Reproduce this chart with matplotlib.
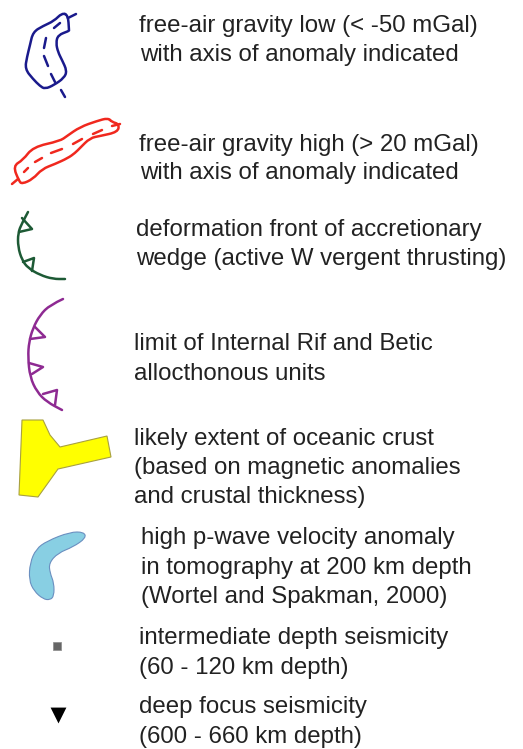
import matplotlib
matplotlib.use("Agg")
import matplotlib.pyplot as plt
from matplotlib.patches import Polygon, PathPatch
from matplotlib.path import Path

plt.rcParams['font.family'] = ['Liberation Sans', 'DejaVu Sans']

# outlines, in image pixels
low_outline = [(62, 13), (68, 15), (69, 30), (69, 31), (58, 35), (56, 43), (58, 52), (62, 60), (67, 71), (64, 78),
               (54, 85), (45, 89), (40, 86), (33, 79), (25, 69), (27, 57), (30, 45), (33, 32), (43, 26), (54, 21)]
low_axis = [[(76, 14), (68, 18)], [(60, 23), (54, 28)], [(46, 38), (44, 48)], [(44, 56), (48, 66)],
            [(51, 74), (55, 82)], [(61, 90), (65, 97)]]
high_outline = [(108, 118), (112, 122), (119, 124), (118, 132), (100, 136), (90, 138), (80, 148), (75, 153),
                (68, 158), (55, 164), (42, 169), (33, 179), (22, 184), (19, 181), (13, 166), (23, 160), (33, 147),
                (60, 141), (67, 136), (80, 127), (97, 121)]
high_axis = [[(120, 124), (112, 126)], [(102, 130), (93, 134)], [(82, 139), (73, 144)], [(62, 149), (51, 153)],
             [(42, 158), (35, 162)], [(28, 168), (24, 172)], [(18, 179), (12, 184)]]
front_curve = [(28, 212), (22, 223), (18, 233), (18, 247), (22, 260), (28, 268), (40, 275), (53, 279), (65, 279)]
front_teeth = [[(22, 218), (32, 229), (19, 232)], [(23, 262), (34, 258), (32, 271)]]
limit_curve = [(63, 299), (50, 305), (40, 315), (33, 328), (29, 342), (28, 357), (30, 377), (37, 392), (47, 402), (62, 410)]
limit_teeth = [[(35, 327), (45, 337), (30, 339)], [(29, 363), (43, 367), (32, 374)], [(43, 394), (57, 390), (55, 405)]]
ocean_outline = [(22, 420), (43, 420), (50, 435), (60, 447), (107, 436), (111, 457), (58, 469), (38, 497), (19, 495)]
velocity_outline = [(47, 541), (70, 532), (84, 532), (86, 538), (73, 547), (58, 553), (49, 563), (50, 573), (54, 583),
                    (54, 596), (50, 600), (43, 599), (34, 591), (29, 580), (30, 563), (36, 549)]
seismic_x = [57]
seismic_y = [646]
deep_x = [57.5]
deep_y = [714.5]

labels = [
    (139, 32, "free-air gravity low (< -50 mGal)"),
    (140, 61, "with axis of anomaly indicated"),
    (139, 151, "free-air gravity high (> 20 mGal)"),
    (140, 179, "with axis of anomaly indicated"),
    (136, 236, "deformation front of accretionary"),
    (136, 265, "wedge (active W vergent thrusting)"),
    (134, 350, "limit of Internal Rif and Betic"),
    (134, 380, "allocthonous units"),
    (134, 445, "likely extent of oceanic crust"),
    (134, 474, "(based on magnetic anomalies"),
    (134, 503, "and crustal thickness)"),
    (141, 544, "high p-wave velocity anomaly"),
    (141, 574, "in tomography at 200 km depth"),
    (141, 603, "(Wortel and Spakman, 2000)"),
    (139, 644, "intermediate depth seismicity"),
    (139, 674, "(60 - 120 km depth)"),
    (139, 713, "deep focus seismicity"),
    (139, 743, "(600 - 660 km depth)"),
]

fig = plt.figure(figsize=(5.23, 7.49), dpi=100)
ax = fig.add_axes([0, 0, 1, 1])
ax.set_xlim(0, 523)
ax.set_ylim(749, 0)
ax.axis('off')


def draw_line(points, color, lw=1.8):
    ax.plot([p[0] for p in points], [p[1] for p in points], color=color, lw=lw,
            solid_capstyle='round', solid_joinstyle='round')


def smooth_path(points, closed=False):
    # quadratic curves through the midpoints, keeps the hand drawn look
    if closed:
        pts = list(points) + [points[0], points[1]]
        verts = [((pts[0][0] + pts[1][0]) / 2, (pts[0][1] + pts[1][1]) / 2)]
        codes = [Path.MOVETO]
        for i in range(1, len(pts) - 1):
            m = ((pts[i][0] + pts[i + 1][0]) / 2, (pts[i][1] + pts[i + 1][1]) / 2)
            verts += [pts[i], m]
            codes += [Path.CURVE3, Path.CURVE3]
        return Path(verts, codes)
    verts = [points[0]]
    codes = [Path.MOVETO]
    for i in range(1, len(points) - 1):
        m = ((points[i][0] + points[i + 1][0]) / 2, (points[i][1] + points[i + 1][1]) / 2)
        verts += [points[i], m]
        codes += [Path.CURVE3, Path.CURVE3]
    verts.append(points[-1])
    codes.append(Path.LINETO)
    return Path(verts, codes)


def draw_smooth(points, color, lw=1.8, closed=False):
    ax.add_patch(PathPatch(smooth_path(points, closed), facecolor='none', edgecolor=color, lw=lw,
                           capstyle='round', joinstyle='round'))


# gravity low and high
draw_smooth(low_outline, '#1a1a8c', closed=True)
for seg in low_axis:
    draw_line(seg, '#1a1a8c')
draw_smooth(high_outline, '#f0281e', closed=True)
for seg in high_axis:
    draw_line(seg, '#f0281e')

# thrust fronts
draw_smooth(front_curve, '#1d5a35')
for tooth in front_teeth:
    draw_line(tooth, '#1d5a35')
draw_smooth(limit_curve, '#8e2a92')
for tooth in limit_teeth:
    draw_line(tooth, '#8e2a92')

# filled areas
ax.add_patch(Polygon(ocean_outline, closed=True, facecolor='#ffff00', edgecolor='#a8a040', lw=0.8))
ax.add_patch(PathPatch(smooth_path(velocity_outline, True), facecolor='#88cfe3', edgecolor='#6a8fc0', lw=0.8))

# seismicity symbols
ax.scatter(seismic_x, seismic_y, marker='s', s=29, color='#666666', edgecolors='#8a8a8a', linewidths=0.5)
ax.scatter(deep_x, deep_y, marker='v', s=130, color='black', linewidths=0)

for x, y, s in labels:
    ax.text(x, y, s, fontsize=17.3, color='#222222', ha='left', va='baseline')

fig.savefig('out.png', dpi=100)
